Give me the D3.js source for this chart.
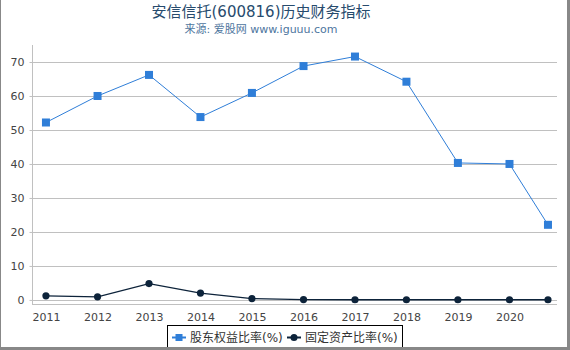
<!DOCTYPE html>
<html>
<head>
<meta charset="utf-8">
<script src="https://cdn.jsdelivr.net/npm/d3@7"></script>
<style>
  body { margin: 0; background: #fff; }
  svg { display: block; font-family: "DejaVu Sans", "Noto Sans CJK SC", sans-serif; }
</style>
</head>
<body>
<div id="chart"></div>
<script>
const TITLE = "安信信托(600816)历史财务指标";
const SUBTITLE = "来源: 爱股网 www.iguuu.com";

// report dates, one per point
const dates = ["2011-12-31", "2012-12-31", "2013-12-31", "2014-12-31", "2015-12-31",
  "2016-12-31", "2017-12-31", "2018-12-31", "2019-12-31", "2020-12-31", "2021-09-30"];
const tickLabels = ["2011", "2012", "2013", "2014", "2015", "2016", "2017", "2018", "2019", "2020"];
const equityRatio = [52.2, 60.0, 66.2, 53.8, 60.9, 68.8, 71.6, 64.2, 40.3, 40.0, 22.1];
const fixedAssetRatio = [1.2, 0.9, 4.8, 2.0, 0.4, 0.1, 0.05, 0.05, 0.05, 0.05, 0.05];
const yTicks = [0, 10, 20, 30, 40, 50, 60, 70];

const BLUE = "#2f7ed8";
const DARK = "#0d233a";

const width = 570, height = 350;
const plotLeft = 32, plotRight = 557, plotTop = 45, plotBottom = 304;

const parse = d3.timeParse("%Y-%m-%d");
const xDates = dates.map(parse);

const svg = d3.select("#chart").append("svg")
  .attr("width", width)
  .attr("height", height);

let x = d3.scaleTime()
  .domain([d3.timeDay.offset(xDates[0], -99), d3.timeDay.offset(xDates[xDates.length - 1], 64)])
  .range([plotLeft, plotRight]);

let y = d3.scaleLinear()
  .domain([-1.2, 75])
  .range([plotBottom, plotTop]);

// grid lines
svg.append("g")
  .selectAll("line")
  .data(yTicks)
  .join("line")
  .attr("x1", plotLeft)
  .attr("x2", plotRight)
  .attr("y1", d => Math.round(y(d)) + 0.5)
  .attr("y2", d => Math.round(y(d)) + 0.5)
  .attr("stroke", "#c0c0c0")
  .attr("stroke-width", 1);

// y axis
let yAxis = svg.append("g")
  .attr("transform", `translate(${plotLeft + 0.5},0)`)
  .call(d3.axisLeft(y).tickValues(yTicks).tickSize(3).tickPadding(5));
yAxis.select(".domain").attr("d", `M0,${plotTop}V${plotBottom}`).attr("stroke", "#c0c0c0");
yAxis.selectAll(".tick line").attr("stroke", "#c0c0c0");
yAxis.selectAll("text")
  .attr("fill", "#444")
  .attr("font-size", "11px")
  .attr("font-family", "DejaVu Sans");

// x axis
let xAxis = svg.append("g")
  .attr("transform", `translate(0,${plotBottom + 0.5})`)
  .call(d3.axisBottom(x)
    .tickValues(xDates.slice(0, tickLabels.length))
    .tickFormat((d, i) => tickLabels[i])
    .tickSize(0)
    .tickPadding(9));
xAxis.select(".domain").attr("d", `M${plotLeft},0H${plotRight}`).attr("stroke", "#c0c0c0");
xAxis.selectAll("text")
  .attr("fill", "#444")
  .attr("font-size", "11px")
  .attr("font-family", "DejaVu Sans");

// series
let line = d3.line()
  .x((d, i) => x(xDates[i]))
  .y(d => y(d));

svg.append("path")
  .datum(equityRatio)
  .attr("d", line)
  .attr("fill", "none")
  .attr("stroke", BLUE)
  .attr("stroke-width", 1);

svg.append("path")
  .datum(fixedAssetRatio)
  .attr("d", line)
  .attr("fill", "none")
  .attr("stroke", DARK)
  .attr("stroke-width", 1.3);

svg.append("g")
  .selectAll("rect")
  .data(equityRatio)
  .join("rect")
  .attr("x", (d, i) => x(xDates[i]) - 4)
  .attr("y", d => y(d) - 4)
  .attr("width", 8)
  .attr("height", 8)
  .attr("fill", BLUE);

svg.append("g")
  .selectAll("circle")
  .data(fixedAssetRatio)
  .join("circle")
  .attr("cx", (d, i) => x(xDates[i]))
  .attr("cy", d => y(d))
  .attr("r", 3.6)
  .attr("fill", DARK);

// titles
svg.append("text")
  .attr("x", 261)
  .attr("y", 17)
  .attr("text-anchor", "middle")
  .attr("font-size", "15px")
  .attr("fill", "#274b6d")
  .text(TITLE);

svg.append("text")
  .attr("x", 261)
  .attr("y", 33)
  .attr("text-anchor", "middle")
  .attr("font-size", "11px")
  .attr("fill", "#4d759e")
  .text(SUBTITLE);

// legend
let legend = svg.append("g");
legend.append("rect")
  .attr("x", 167.5)
  .attr("y", 325.5)
  .attr("width", 235)
  .attr("height", 26)
  .attr("fill", "#fff")
  .attr("stroke", "#000")
  .attr("stroke-width", 1);

const legendItems = [
  { name: "股东权益比率(%)", color: BLUE, shape: "square", x: 172 },
  { name: "固定资产比率(%)", color: DARK, shape: "circle", x: 287 }
];
legendItems.forEach(function (item) {
  legend.append("line")
    .attr("x1", item.x)
    .attr("x2", item.x + 14)
    .attr("y1", 337.5)
    .attr("y2", 337.5)
    .attr("stroke", item.color)
    .attr("stroke-width", 2);
  if (item.shape === "square") {
    legend.append("rect")
      .attr("x", item.x + 3.5)
      .attr("y", 334)
      .attr("width", 7)
      .attr("height", 7)
      .attr("fill", item.color);
  } else {
    legend.append("circle")
      .attr("cx", item.x + 7)
      .attr("cy", 337.5)
      .attr("r", 3.5)
      .attr("fill", item.color);
  }
  legend.append("text")
    .attr("x", item.x + 18)
    .attr("y", 342)
    .attr("font-size", "12px")
    .attr("fill", "#333")
    .text(item.name);
});

// frame
svg.append("rect")
  .attr("x", 0.5)
  .attr("y", -2)
  .attr("width", 568)
  .attr("height", 350)
  .attr("fill", "none")
  .attr("stroke", "#888")
  .attr("stroke-width", 1);
svg.append("rect").attr("x", 567).attr("y", 0).attr("width", 3).attr("height", 350).attr("fill", "#888");
svg.append("rect").attr("x", 0).attr("y", 347).attr("width", 570).attr("height", 3).attr("fill", "#888");
</script>
</body>
</html>
